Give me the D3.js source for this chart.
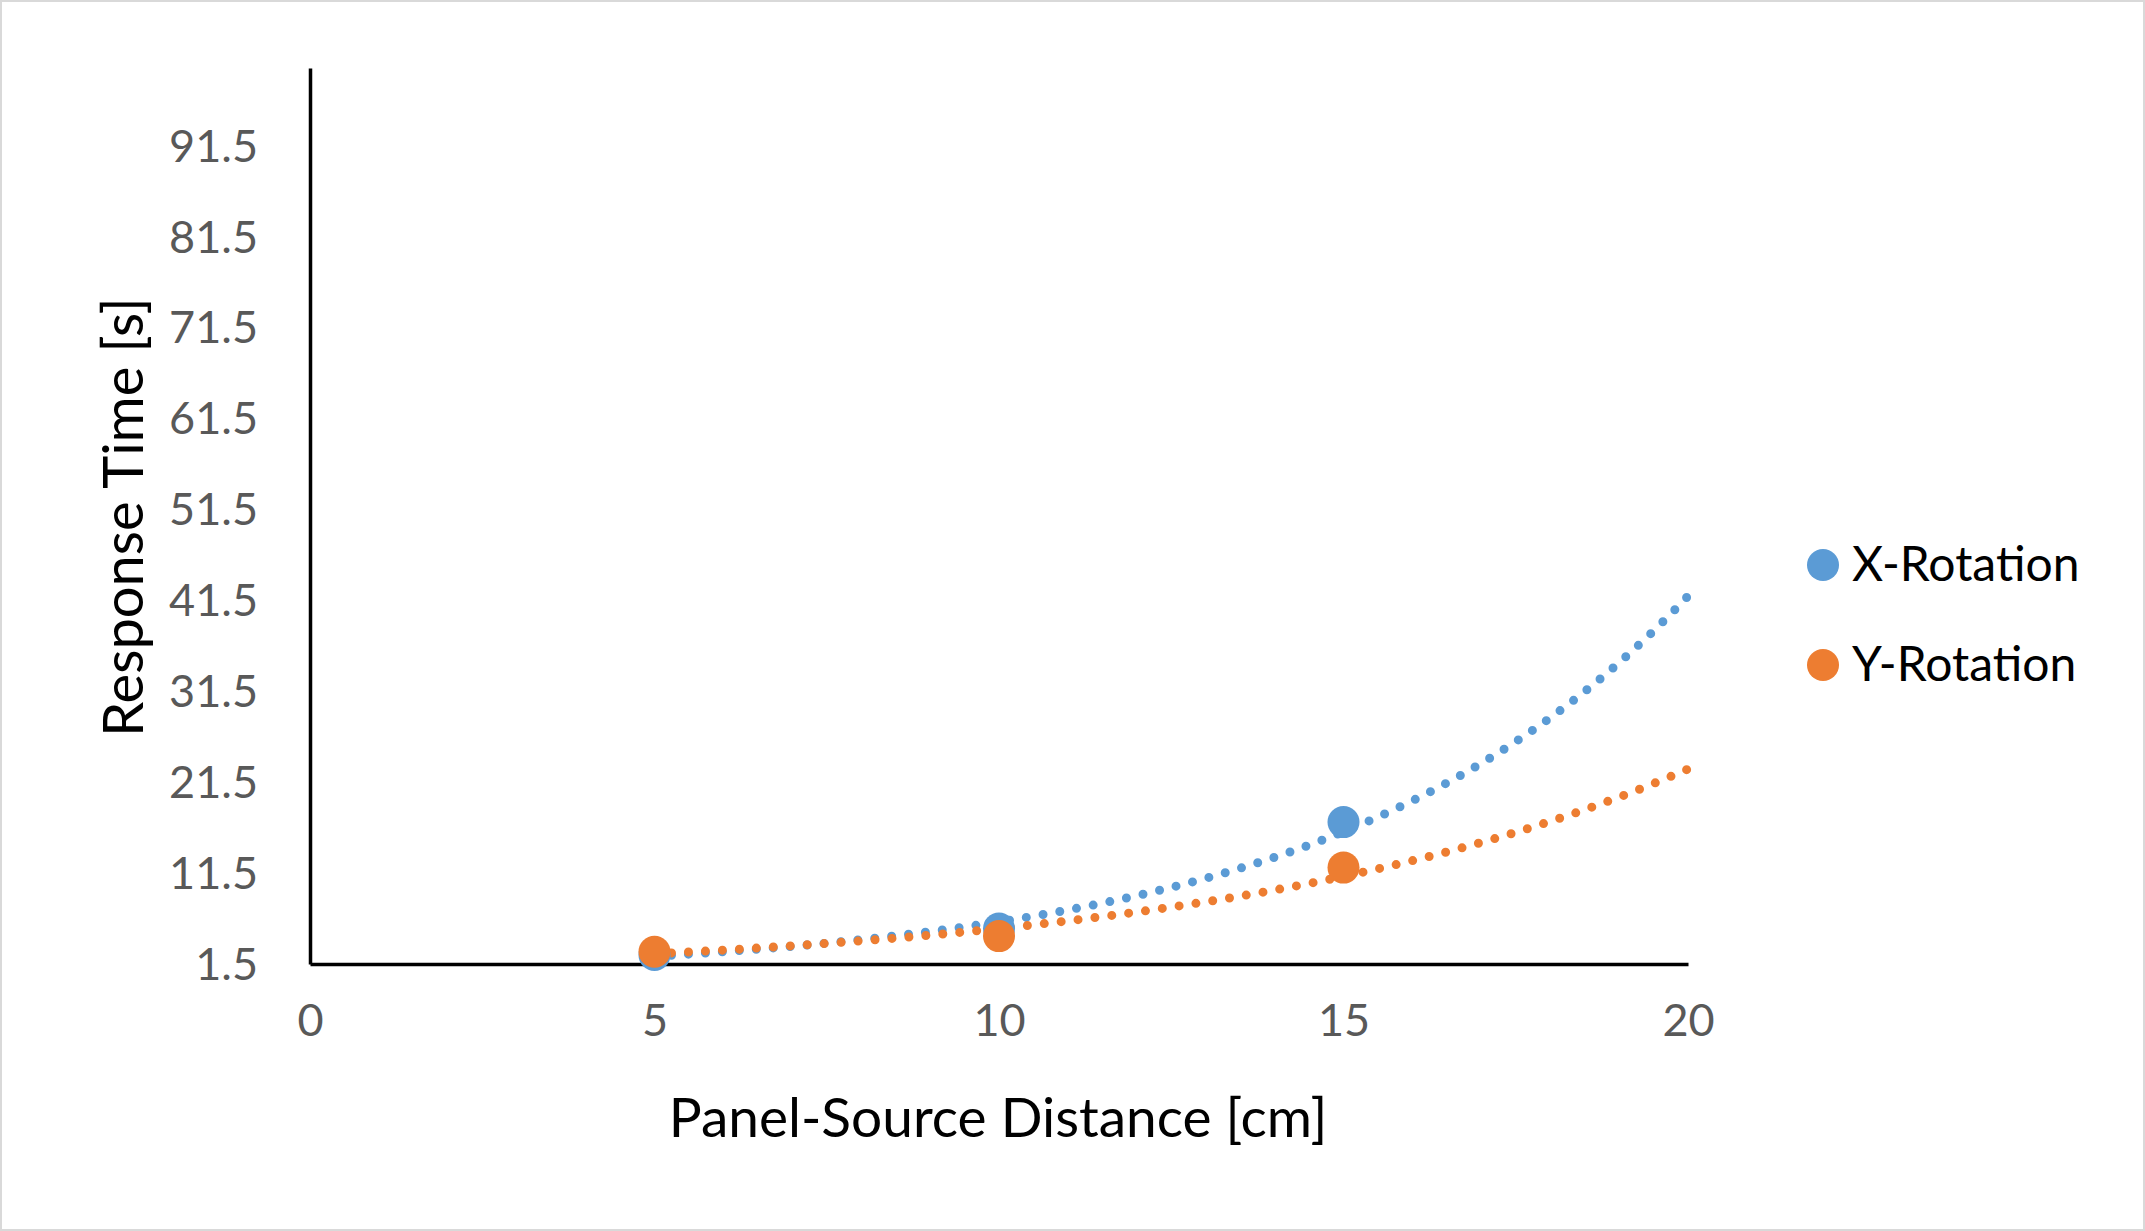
<!DOCTYPE html>
<html>
<head>
<meta charset="utf-8">
<script src="https://cdn.jsdelivr.net/npm/d3@7.9.0/dist/d3.min.js"></script>
<style>
  html, body { margin: 0; padding: 0; background: #fff; }
  text { font-family: Lato, "Open Sans", sans-serif; }
</style>
</head>
<body>
<svg id="chart" width="2145" height="1231"></svg>
<script>
// data
const distances = [5, 10, 15];
const xRotation = [2.5, 5.4, 17.1];
const yRotation = [2.85, 4.57, 12.1];
const xTicks = [0, 5, 10, 15, 20];
const yTicks = [1.5, 11.5, 21.5, 31.5, 41.5, 51.5, 61.5, 71.5, 81.5, 91.5];

const series = [
  { name: 'X-Rotation', values: xRotation, color: '#5b9bd5' },
  { name: 'Y-Rotation', values: yRotation, color: '#ed7d31' }
];

const W = 2145, H = 1231;
const margin = { left: 310, right: 457, top: 68, bottom: 267 };

const svg = d3.select('#chart');

svg.append('rect')
  .attr('x', 1).attr('y', 1)
  .attr('width', W - 2).attr('height', H - 2)
  .attr('fill', '#fff')
  .attr('stroke', '#d9d9d9')
  .attr('stroke-width', 2);

const x = d3.scaleLinear().domain([0, 20]).range([margin.left, W - margin.right]);
const y = d3.scaleLinear().domain([1.5, 100]).range([H - margin.bottom, margin.top]);

// exponential trendline like Excel's (least squares on ln y)
function expFit(xs, ys) {
  const ly = ys.map(Math.log);
  const mx = d3.mean(xs), my = d3.mean(ly);
  let num = 0, den = 0;
  xs.forEach((v, i) => { num += (v - mx) * (ly[i] - my); den += (v - mx) * (v - mx); });
  const b = num / den;
  const a = Math.exp(my - b * mx);
  return (t) => a * Math.exp(b * t);
}

const line = d3.line().x(d => x(d[0])).y(d => y(d[1]));

series.forEach(s => {
  const f = expFit(distances, s.values);
  const pts = d3.range(5, 20.001, 0.1).map(t => [t, f(t)]);
  svg.append('path')
    .attr('d', line(pts))
    .attr('fill', 'none')
    .attr('stroke', s.color)
    .attr('stroke-width', 9)
    .attr('stroke-linecap', 'round')
    .attr('stroke-dasharray', '0 17');
});

// axes
const xAxis = svg.append('g')
  .attr('transform', `translate(0,${y(1.5)})`)
  .call(d3.axisBottom(x).tickValues(xTicks).tickSize(0).tickPadding(40).tickFormat(d3.format('d')));
const yAxis = svg.append('g')
  .attr('transform', `translate(${x(0)},0)`)
  .call(d3.axisLeft(y).tickValues(yTicks).tickSize(0).tickPadding(52).tickFormat(d3.format('.1f')));

[xAxis, yAxis].forEach(g => {
  g.select('.domain').attr('stroke', '#000').attr('stroke-width', 3.5);
  g.selectAll('text')
    .attr('fill', '#595959')
    .style('font-size', '45px');
});
yAxis.selectAll('text').attr('dy', '0.35em');
xAxis.selectAll('text').attr('dy', '0.71em');

// markers
series.forEach(s => {
  svg.append('g').selectAll('circle')
    .data(distances.map((d, i) => [d, s.values[i]]))
    .join('circle')
    .attr('cx', d => x(d[0]))
    .attr('cy', d => y(d[1]))
    .attr('r', 16)
    .attr('fill', s.color);
});

// axis titles
svg.append('text')
  .attr('x', 998)
  .attr('y', 1137)
  .attr('text-anchor', 'middle')
  .style('font-size', '55px')
  .attr('fill', '#000')
  .text('Panel-Source Distance [cm]');

svg.append('text')
  .attr('transform', 'translate(143,517) rotate(-90)')
  .attr('text-anchor', 'middle')
  .style('font-size', '56px')
  .attr('fill', '#000')
  .text('Response Time [s]');

// legend
const legend = svg.append('g');
series.forEach((s, i) => {
  const cy = 565 + i * 100;
  legend.append('circle')
    .attr('cx', 1823).attr('cy', cy).attr('r', 16)
    .attr('fill', s.color);
  legend.append('text')
    .attr('x', 1852).attr('y', cy + 16)
    .style('font-size', '48px')
    .attr('fill', '#000')
    .text(s.name);
});
</script>
</body>
</html>
